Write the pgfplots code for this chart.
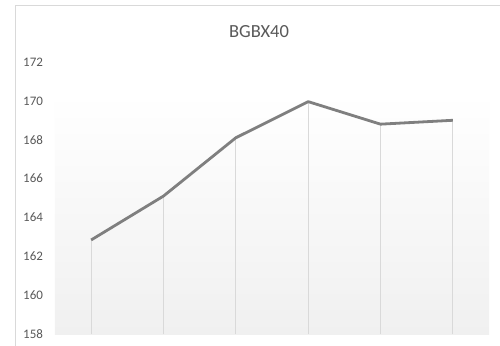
\documentclass[border=0pt]{standalone}
\usepackage{pgfplots}
\pgfplotsset{compat=1.18}
\usepackage{fontspec}
\setmainfont{Carlito}
\definecolor{txt}{HTML}{595959}
\definecolor{ln}{HTML}{7F7F7F}
\definecolor{drop}{HTML}{D9D9D9}
\definecolor{frame}{HTML}{D9D9D9}
\definecolor{bgbot}{HTML}{F0F0F0}
\begin{document}
\begin{tikzpicture}[x=1pt,y=1pt]
\useasboundingbox (0,0) rectangle (500,345);
\fill[white] (0,0) rectangle (500,345);
\draw[frame, line width=1pt] (15,-10) rectangle (515,339);
\node[anchor=base, text=txt, font=\fontsize{18.5}{20}\selectfont] at (259,307) {BGBX40};
\begin{axis}[
  at={(55pt,11pt)}, anchor=south west,
  scale only axis, width=434pt, height=272pt,
  xmin=-0.5, xmax=5.5, ymin=158, ymax=172,
  ytick={158,160,...,172},
  xtick=\empty,
  axis line style={draw=none},
  major tick style={draw=none},
  yticklabel style={text=txt, font=\fontsize{13}{14}\selectfont, anchor=east, xshift=-8.5pt},
  /pgf/number format/assume math mode=true,
  clip=true,
]
\fill[top color=white, bottom color=bgbot, draw=none] (axis cs:-0.5,158) rectangle (axis cs:5.5,170.4);
\addplot[ycomb, draw=drop, line width=0.9pt, forget plot] coordinates {
(0,162.84) (1,165.1) (2,168.1) (3,169.96) (4,168.8) (5,169.0)
};
\addplot[ln, line width=2.8pt, line join=round, mark=none] coordinates {
(0,162.84) (1,165.1) (2,168.1) (3,169.96) (4,168.8) (5,169.0)
};
\end{axis}
\end{tikzpicture}
\end{document}
